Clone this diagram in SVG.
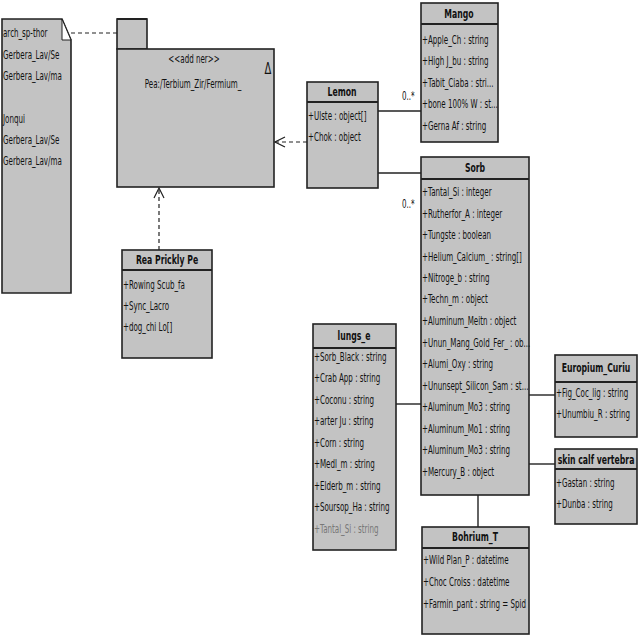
<svg xmlns="http://www.w3.org/2000/svg" width="640" height="640" viewBox="0 0 640 640">
<defs>
<style>
.box{fill:#c3c3c3;stroke:#222;stroke-width:1.6}
.t{font-family:"DejaVu Sans",sans-serif;font-size:11.5px;fill:#111}
.h{font-family:"DejaVu Sans",sans-serif;font-size:12.5px;font-weight:bold;fill:#111;text-anchor:middle}
.g{fill:#777}
.ln{stroke:#222;stroke-width:1.4;fill:none}
.hd{stroke:#222;stroke-width:2;fill:none}
.dl{stroke:#222;stroke-width:1.2;fill:none;stroke-dasharray:4,3}
</style>
<marker id="open" markerWidth="12" markerHeight="12" refX="11" refY="6" orient="auto" markerUnits="userSpaceOnUse">
<path d="M1,1 L11,6 L1,11" fill="none" stroke="#222" stroke-width="1.2"/>
</marker>
<clipPath id="noteClip"><rect x="2" y="19" width="68" height="274"/></clipPath>
<clipPath id="europClip"><rect x="555" y="355" width="82" height="82"/></clipPath>
<clipPath id="skinClip"><rect x="555" y="449" width="82" height="75"/></clipPath>
</defs>
<rect width="640" height="640" fill="#fff"/>

<g id="connectors">
<line class="dl" x1="71" y1="33" x2="117" y2="33"/>
<line class="dl" x1="307" y1="142" x2="275" y2="142" marker-end="url(#open)"/>
<line class="dl" x1="159" y1="250" x2="159" y2="188" marker-end="url(#open)"/>
<line class="ln" x1="378" y1="111" x2="421" y2="111"/>
<line class="ln" x1="378" y1="173" x2="421" y2="173"/>
<line class="ln" x1="396" y1="404" x2="421" y2="404"/>
<line class="ln" x1="529" y1="395" x2="555" y2="395"/>
<line class="ln" x1="529" y1="464" x2="555" y2="464"/>
<line class="ln" x1="478" y1="495" x2="478" y2="527"/>
<g transform="translate(402 0) scale(0.62 1)"><text class="t" x="0" y="100">0..*</text><text class="t" x="0" y="208">0..*</text></g>
</g>

<g id="note">
<path class="box" d="M2,19 L62,19 L71,40 L71,293 L2,293 Z"/>
<path d="M62,19 L62,40 L71,40 Z" fill="#fff" stroke="#222" stroke-width="1"/>
<g clip-path="url(#noteClip)"><g transform="translate(3 0) scale(0.62 1)">
<text class="t" x="0" y="37">arch_sp-thor</text>
<text class="t" x="0" y="59">Gerbera_Lav/Se</text>
<text class="t" x="0" y="80">Gerbera_Lav/ma</text>
<text class="t" x="0" y="123">Jonqui</text>
<text class="t" x="0" y="144">Gerbera_Lav/Se</text>
<text class="t" x="0" y="165">Gerbera_Lav/ma</text>
</g></g>
</g>

<g id="package">
<rect class="box" x="117" y="19" width="30" height="30"/>
<line class="hd" x1="117" y1="19" x2="147" y2="19"/>
<rect class="box" x="117" y="49" width="157" height="138"/>
<g transform="translate(194 0) scale(0.62 1)"><text class="t" x="0" y="63" text-anchor="middle">&lt;&lt;add ner&gt;&gt;</text></g>
<g transform="translate(193 0) scale(0.62 1)"><text class="t" x="0" y="88" text-anchor="middle">Pea:/Terbium_Zir/Fermium_</text></g>
<g transform="translate(268 0) scale(0.62 1)"><text class="t" x="0" y="74" text-anchor="middle" style="font-size:16px">Δ</text></g>
</g>

<g id="lemon">
<rect class="box" x="307" y="82" width="71" height="106"/>
<line class="hd" x1="307" y1="102" x2="378" y2="102"/>
<g transform="translate(342 0) scale(0.62 1)"><text class="h" x="0" y="96">Lemon</text></g>
<g transform="translate(308 0) scale(0.62 1)">
<text class="t" x="0" y="120">+Ulste : object[]</text>
<text class="t" x="0" y="141">+Chok : object</text>
</g>
</g>

<g id="mango">
<rect class="box" x="421" y="3" width="77" height="139"/>
<line class="hd" x1="421" y1="24" x2="498" y2="24"/>
<g transform="translate(459 0) scale(0.62 1)"><text class="h" x="0" y="18">Mango</text></g>
<g transform="translate(422 0) scale(0.62 1)">
<text class="t" x="0" y="44">+Apple_Ch : string</text>
<text class="t" x="0" y="65">+High J_bu : string</text>
<text class="t" x="0" y="87">+Tabit_Ciaba : stri...</text>
<text class="t" x="0" y="108">+bone 100% W : st...</text>
<text class="t" x="0" y="130">+Gerna Af : string</text>
</g>
</g>

<g id="sorb">
<rect class="box" x="421" y="157" width="108" height="338"/>
<line class="hd" x1="421" y1="179" x2="529" y2="179"/>
<g transform="translate(475 0) scale(0.62 1)"><text class="h" x="0" y="172">Sorb</text></g>
<g transform="translate(422 0) scale(0.62 1)">
<text class="t" x="0" y="196">+Tantal_Si : integer</text>
<text class="t" x="0" y="218">+Rutherfor_A : integer</text>
<text class="t" x="0" y="239">+Tungste : boolean</text>
<text class="t" x="0" y="261">+Helium_Calcium_ : string[]</text>
<text class="t" x="0" y="282">+Nitroge_b : string</text>
<text class="t" x="0" y="303">+Techn_m : object</text>
<text class="t" x="0" y="325">+Aluminum_Meitn : object</text>
<text class="t" x="0" y="347">+Unun_Mang_Gold_Fer_ : ob...</text>
<text class="t" x="0" y="368">+Alumi_Oxy : string</text>
<text class="t" x="0" y="390">+Ununsept_Silicon_Sam : st...</text>
<text class="t" x="0" y="411">+Aluminum_Mo3 : string</text>
<text class="t" x="0" y="433">+Aluminum_Mo1 : string</text>
<text class="t" x="0" y="454">+Aluminum_Mo3 : string</text>
<text class="t" x="0" y="476">+Mercury_B : object</text>
</g>
</g>

<g id="lungs_e">
<rect class="box" x="313" y="324" width="83" height="226"/>
<line class="hd" x1="313" y1="348" x2="396" y2="348"/>
<g transform="translate(354 0) scale(0.62 1)"><text class="h" x="0" y="340">lungs_e</text></g>
<g transform="translate(314 0) scale(0.62 1)">
<text class="t" x="0" y="361">+Sorb_Black : string</text>
<text class="t" x="0" y="382">+Crab App : string</text>
<text class="t" x="0" y="404">+Coconu : string</text>
<text class="t" x="0" y="425">+arter Ju : string</text>
<text class="t" x="0" y="447">+Corn : string</text>
<text class="t" x="0" y="468">+Medl_m : string</text>
<text class="t" x="0" y="490">+Elderb_m : string</text>
<text class="t" x="0" y="511">+Soursop_Ha : string</text>
<text class="t g" x="0" y="533">+Tantal_Si : string</text>
</g>
</g>

<g id="europium">
<rect class="box" x="555" y="355" width="82" height="82"/>
<line class="hd" x1="555" y1="382" x2="637" y2="382"/>
<g clip-path="url(#europClip)">
<g transform="translate(596 0) scale(0.62 1)"><text class="h" x="0" y="372">Europium_Curiu</text></g>
<g transform="translate(556 0) scale(0.62 1)">
<text class="t" x="0" y="397">+Fig_Coc_lig : string</text>
<text class="t" x="0" y="418">+Unumbiu_R : string</text>
</g>
</g>
</g>

<g id="skin">
<rect class="box" x="555" y="449" width="82" height="75"/>
<line class="hd" x1="555" y1="469" x2="637" y2="469"/>
<g clip-path="url(#skinClip)">
<g transform="translate(596 0) scale(0.62 1)"><text class="h" x="0" y="464">skin calf vertebra</text></g>
<g transform="translate(556 0) scale(0.62 1)">
<text class="t" x="0" y="487">+Gastan : string</text>
<text class="t" x="0" y="508">+Dunba : string</text>
</g>
</g>
</g>

<g id="bohrium">
<rect class="box" x="422" y="527" width="107" height="107"/>
<line class="hd" x1="422" y1="548" x2="529" y2="548"/>
<g transform="translate(475 0) scale(0.62 1)"><text class="h" x="0" y="541">Bohrium_T</text></g>
<g transform="translate(423 0) scale(0.62 1)">
<text class="t" x="0" y="564">+Wild Plan_P : datetime</text>
<text class="t" x="0" y="586">+Choc Croiss : datetime</text>
<text class="t" x="0" y="608">+Farmin_pant : string = Spid</text>
</g>
</g>

<g id="rea">
<rect class="box" x="122" y="250" width="90" height="108"/>
<line class="hd" x1="122" y1="270" x2="212" y2="270"/>
<g transform="translate(167 0) scale(0.62 1)"><text class="h" x="0" y="264">Rea Prickly Pe</text></g>
<g transform="translate(123 0) scale(0.62 1)">
<text class="t" x="0" y="289">+Rowing Scub_fa</text>
<text class="t" x="0" y="310">+Sync_Lacro</text>
<text class="t" x="0" y="331">+dog_chi Lo[]</text>
</g>
</g>
</svg>
